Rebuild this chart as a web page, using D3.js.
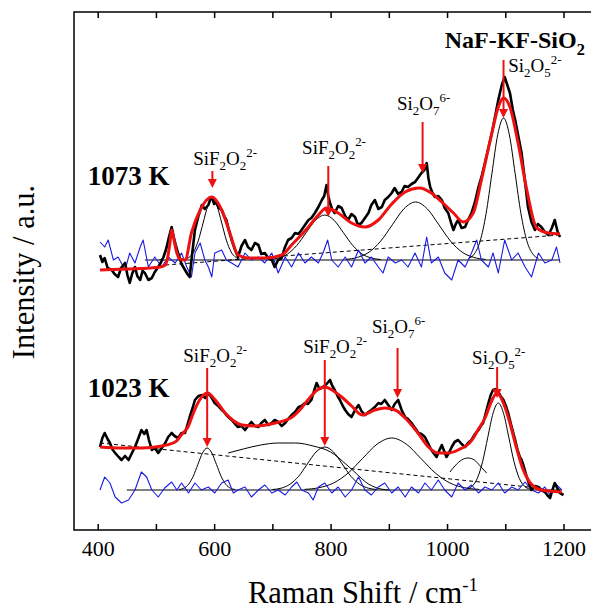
<!DOCTYPE html>
<html><head><meta charset="utf-8">
<script src="https://cdn.jsdelivr.net/npm/d3@7"></script>
<style>body{margin:0;background:#fff}svg{display:block}
svg text, svg tspan{font-family:"Liberation Serif","Times New Roman",serif !important}</style>
</head><body>
<svg id="c" width="591" height="610"></svg>
<script>
// ---------------- DATA ----------------
const xTickValues = [400,500,600,700,800,900,1000,1100,1200];
const xTickLabels = [400,600,800,1000,1200];

// 1073 K  (Raman shift cm-1, intensity a.u.)
const data1073 = [[404,275],[408,268],[412,272],[417,262],[424,260],[429,256],[435,253],[440,262],[447,267],[451,255],[455,247],[459,256],[464,263],[468,254],[473,250],[477,259],[481,257],[487,250],[493,252],[498,258],[504,263],[509,268],[513,273],[518,282],[522,292],[527,303],[531,292],[534,285],[538,277],[544,266],[550,260],[554,256],[558,253],[562,275],[567,300],[573,314],[579,325],[584,321],[590,325],[593,330],[596,333],[600,326],[604,328],[608,322],[613,320],[617,314],[621,310],[626,298],[630,290],[636,280],[641,273],[647,284],[653,290],[658,283],[664,280],[670,287],[676,285],[681,276],[687,277],[693,272],[699,270],[704,263],[710,270],[716,272],[721,282],[727,290],[733,292],[739,297],[745,296],[750,300],[756,305],[762,310],[767,312],[773,317],[779,323],[785,330],[789,334],[793,345],[796,334],[799,327],[803,320],[807,317],[813,324],[819,322],[825,314],[830,310],[836,316],[842,313],[847,305],[853,307],[859,312],[865,317],[870,325],[876,330],[882,321],[888,323],[893,330],[899,333],[905,337],[910,342],[916,336],[922,338],[927,344],[933,343],[939,346],[945,348],[950,352],[956,357],[961,360],[965,367],[968,352],[971,343],[975,337],[979,333],[985,334],[991,330],[996,322],[1002,317],[1007,307],[1011,300],[1015,306],[1019,310],[1025,302],[1031,303],[1036,310],[1042,317],[1048,328],[1054,343],[1060,355],[1065,367],[1071,382],[1077,397],[1083,415],[1088,430],[1094,445],[1099,453],[1104,444],[1108,437],[1113,420],[1117,410],[1123,392],[1128,377],[1134,348],[1139,323],[1145,308],[1151,300],[1156,306],[1162,303],[1168,298],[1174,295],[1180,302],[1185,310],[1190,298],[1194,293]];
const fit1073 = [[404,260],[450,261],[490,262],[507,263],[516,265],[520,272],[524,287],[527,300],[530,293],[535,279],[541,271],[550,270],[561,297],[576,320],[596,333],[613,320],[627,297],[641,275],[659,272],[687,272],[716,275],[733,285],[762,303],[779,315],[793,322],[813,317],[836,307],[859,303],[882,310],[905,326],[928,338],[953,342],[973,337],[991,328],[1011,317],[1028,308],[1045,317],[1059,350],[1077,397],[1088,423],[1097,432],[1108,423],[1122,387],[1137,340],[1154,302],[1174,297],[1194,296]];
const resid1073 = [[404,288],[412,283],[418,290],[427,270],[435,273],[447,260],[455,277],[464,267],[473,283],[478,290],[487,263],[498,273],[510,263],[521,273],[533,267],[544,277],[553,263],[561,253],[567,277],[576,287],[584,270],[590,263],[596,253],[601,277],[613,280],[621,270],[630,267],[641,263],[653,277],[664,270],[676,273],[687,267],[699,277],[710,257],[722,273],[733,263],[745,277],[756,267],[767,273],[779,267],[787,277],[795,290],[802,270],[813,263],[825,273],[836,263],[848,280],[859,267],[870,273],[882,263],[890,257],[899,273],[911,267],[922,270],[933,263],[945,277],[956,263],[965,293],[973,267],[985,273],[996,257],[1008,250],[1019,270],[1031,263],[1042,277],[1051,290],[1059,270],[1071,263],[1079,277],[1088,257],[1099,290],[1111,270],[1122,277],[1134,263],[1145,253],[1157,277],[1168,267],[1180,270],[1188,283],[1194,267]];
const base1073 = [[481,270],[1194,270]];
const bg1073 = [[516,265],[1194,295]];
const peaks1073 = [
  [[506,270.3],[510,271.1],[513,273.4],[517,278.1],[520,285.2],[524,292],[527,295],[531,292],[534,285.2],[538,278.1],[541,273.4],[545,271.1],[548,270.3]],
  [[549,270.7],[557,272.7],[565,278.2],[573,289.8],[581,307],[589,323.8],[597,331],[605,323.8],[613,307],[621,289.8],[629,278.2],[637,272.7],[645,270.7]],
  [[694,270.5],[710,272],[726,276],[742,284.6],[758,297.3],[774,309.7],[790,315],[806,309.7],[822,297.3],[838,284.6],[854,276],[870,272],[886,270.5]],
  [[826,270.6],[846,272.6],[866,277.8],[886,288.9],[906,305.2],[926,321.2],[946,328],[966,321.2],[986,305.2],[1006,288.9],[1026,277.8],[1046,272.6],[1066,270.6]],
  [[1037,271.6],[1047,276.2],[1057,289.2],[1067,316.2],[1077,356.2],[1087,395.2],[1097,412],[1107,395.2],[1117,356.2],[1127,316.2],[1137,289.2],[1147,276.2],[1157,271.6]]
];

// 1023 K
const data1023 = [[404,83],[408,92],[412,97],[417,91],[421,87],[426,80],[430,77],[436,73],[441,70],[447,74],[453,70],[458,76],[464,83],[470,92],[475,100],[480,96],[484,100],[488,90],[493,80],[498,82],[504,77],[510,82],[516,87],[521,93],[527,97],[532,94],[538,92],[544,97],[550,97],[554,105],[558,113],[563,122],[567,130],[573,134],[579,135],[585,132],[590,137],[596,132],[601,127],[607,124],[613,120],[617,118],[621,115],[626,112],[630,110],[636,106],[641,103],[647,104],[653,100],[658,104],[664,108],[670,104],[676,103],[681,107],[687,110],[693,105],[699,107],[704,110],[710,108],[716,104],[722,107],[727,111],[733,115],[739,118],[745,123],[750,124],[756,127],[761,126],[767,130],[771,138],[776,147],[781,141],[787,143],[793,146],[799,150],[803,144],[807,140],[812,134],[816,130],[821,124],[825,120],[830,116],[836,113],[842,120],[848,125],[853,119],[859,115],[865,118],[870,120],[876,123],[882,127],[887,126],[893,130],[899,125],[905,120],[910,126],[916,130],[922,120],[928,113],[933,111],[939,107],[945,102],[951,97],[956,96],[962,93],[968,86],[973,80],[978,76],[982,73],[987,80],[991,85],[995,79],[999,73],[1004,78],[1008,83],[1013,88],[1019,90],[1025,86],[1031,83],[1036,87],[1042,90],[1048,96],[1054,100],[1058,104],[1062,107],[1067,118],[1071,127],[1075,135],[1079,140],[1084,141],[1088,138],[1092,134],[1097,130],[1101,124],[1105,117],[1111,103],[1117,90],[1121,80],[1125,73],[1128,70],[1131,65],[1134,59],[1137,53],[1141,46],[1145,40],[1151,44],[1157,43],[1162,40],[1168,38],[1172,35],[1177,32],[1181,40],[1185,47],[1190,41],[1194,37],[1200,35]];
const fit1023 = [[404,83],[440,82],[476,82],[510,84],[533,88],[545,96],[555,103],[565,118],[575,130],[588,137],[602,130],[619,117],[634,109],[648,105],[670,104],[705,107],[734,113],[750,122],[761,130],[775,139],[790,143],[805,139],[819,133],[836,124],[854,115],[876,120],[893,122],[911,120],[928,112],[950,97],[968,83],[985,77],[1002,77],[1019,80],[1043,90],[1053,100],[1066,113],[1075,127],[1086,137],[1096,128],[1105,113],[1117,87],[1129,63],[1143,47],[1156,41],[1175,39],[1197,38]];
const resid1023 = [[404,40],[412,53],[421,47],[430,33],[441,27],[453,30],[464,40],[475,58],[484,53],[493,40],[504,33],[515,42],[527,48],[536,40],[544,47],[556,37],[567,47],[578,40],[590,43],[601,37],[613,47],[624,50],[633,37],[641,40],[653,43],[664,33],[676,40],[687,45],[699,37],[710,40],[722,35],[733,43],[742,48],[750,40],[762,37],[770,30],[779,43],[790,47],[802,37],[813,43],[825,33],[836,40],[848,53],[859,40],[870,35],[882,43],[893,47],[905,37],[916,43],[928,33],[939,43],[951,37],[962,47],[973,40],[985,50],[996,40],[1008,33],[1019,47],[1031,40],[1042,45],[1054,37],[1065,43],[1077,40],[1088,47],[1099,37],[1111,43],[1122,40],[1134,48],[1145,40],[1157,37],[1168,43],[1177,35],[1185,47],[1197,40]];
const base1023 = [[450,40],[1197,40]];
const bg1023 = [[404,87],[1140,43]];
const peaks1023 = [
  [[540,40.5],[548,41.8],[556,45.7],[564,53.6],[572,65.5],[580,77],[588,82],[596,77],[604,65.5],[612,53.6],[620,45.7],[628,41.8],[636,40.5]],
  [[624,77],[650,81],[680,85],[710,87],[740,87],[770,84],[800,78],[828,65],[845,56],[860,48],[880,42],[900,40]],
  [[700,40.5],[715,41.8],[730,45.7],[745,53.6],[760,66],[775,78],[790,83],[805,78],[820,66],[835,53.6],[850,45.7],[865,41.8],[880,40.5]],
  [[755,40.6],[780,42.3],[805,47],[830,56.9],[855,71.6],[880,85.9],[905,92],[930,85.9],[955,71.6],[980,56.9],[1005,47],[1030,42.3],[1055,40.6]],
  [[1005,58],[1015,65],[1025,70],[1036,72],[1047,70],[1057,64],[1068,57]],
  [[1034,40.9],[1043,43.8],[1052,51.7],[1061,68.3],[1070,92.8],[1079,116.7],[1088,127],[1097,116.7],[1106,92.8],[1115,68.3],[1124,51.7],[1133,43.8],[1142,40.9]]
];

// Ion labels: parts [text, kind]
const ionSiF2O2 = [["SiF","n"],["2","sub"],["O","n"],["2","sub"],["2-","sup"]];
const ionSi2O7 = [["Si","n"],["2","sub"],["O","n"],["7","sub"],["6-","sup"]];
const ionSi2O5 = [["Si","n"],["2","sub"],["O","n"],["5","sub"],["2-","sup"]];
// arrows: [shift, top, bottom], labels: [ion, shift, baseline]
const arrows = [[597,359,342],[796,364,313],[958,408,357],[1097,470,412],
                [588,162,83],[790,170,84],[915,182,132],[1086,163,132]];
const ionLabels = [[ionSiF2O2,564,365],[ionSiF2O2,751,376],[ionSi2O7,914,420],[ionSi2O5,1105,458],
                   [ionSiF2O2,547,168],[ionSiF2O2,753,177],[ionSi2O7,871,197],[ionSi2O5,1043,166]];
const panelLabels = [["1073 K",383,345],["1023 K",383,133]];
const titleParts = [["NaF-KF-SiO","n"],["2","sub"]];
const titlePos = [996,482];

// ---------------- DRAW ----------------
const FONT = "Liberation Serif";
const svg = d3.select("#c");
const x = d3.scaleLinear().domain([400,1200]).range([97.7,563.5]);
const y = d3.scaleLinear().domain([0,518]).range([530,12]);
const L=74, T=12, B=530, R=597;

const line = d3.line().x(d=>x(d[0])).y(d=>y(d[1]));
const smooth = d3.line().curve(d3.curveMonotoneX).x(d=>x(d[0])).y(d=>y(d[1]));

// frame
svg.append("path").attr("d",`M${R},${T}H${L}V${B}H${R}`)
  .attr("fill","none").attr("stroke","#000").attr("stroke-width",1.5);

const gB = svg.append("g").attr("transform",`translate(0,${B})`)
  .call(d3.axisBottom(x).tickValues(xTickValues).tickSizeInner(-6).tickSizeOuter(0).tickPadding(10)
        .tickFormat(d=>xTickLabels.includes(d)?d:""));
gB.attr("font-family",null);
gB.select(".domain").remove();
gB.selectAll("line").attr("stroke-width",1.5);
gB.selectAll("text").style("font-family",FONT).style("font-size","22px").attr("fill","#000");

const gT = svg.append("g").attr("transform",`translate(0,${T})`)
  .call(d3.axisTop(x).tickValues(xTickValues).tickSizeInner(-6).tickSizeOuter(0).tickFormat(""));
gT.select(".domain").remove();
gT.selectAll("line").attr("stroke-width",1.5);

// components
[[peaks1073,base1073],[peaks1023,base1023]].forEach(([pk,bs])=>{
  svg.append("path").attr("d",line(bs)).attr("fill","none").attr("stroke","#000").attr("stroke-width",1);
  pk.forEach(p=>svg.append("path").attr("d",smooth(p)).attr("fill","none").attr("stroke","#000").attr("stroke-width",1));
});
[bg1073,bg1023].forEach(b=>svg.append("path").attr("d",line(b)).attr("fill","none")
  .attr("stroke","#000").attr("stroke-width",1).attr("stroke-dasharray","4,3"));
[resid1073,resid1023].forEach(r=>svg.append("path").attr("d",line(r)).attr("fill","none")
  .attr("stroke","#1a1ae6").attr("stroke-width",1.1).attr("stroke-linejoin","round"));
[data1073,data1023].forEach(r=>svg.append("path").attr("d",line(r)).attr("fill","none")
  .attr("stroke","#000").attr("stroke-width",2.6).attr("stroke-linejoin","round"));
[fit1073,fit1023].forEach(r=>svg.append("path").attr("d",smooth(r)).attr("fill","none")
  .attr("stroke","#ee1111").attr("stroke-width",3).attr("stroke-linejoin","round"));

// arrows
arrows.forEach(([s,t,b])=>{
  const px=x(s), y0=y(t), y1=y(b);
  svg.append("line").attr("x1",px).attr("x2",px).attr("y1",y0).attr("y2",y1-7)
    .attr("stroke","#ee1111").attr("stroke-width",2);
  svg.append("path").attr("d",`M${px-4.5},${y1-9}L${px+4.5},${y1-9}L${px},${y1}Z`).attr("fill","#ee1111");
});

function rich(parts, px, py, size, weight){
  const t = svg.append("text").attr("x",px).attr("y",py).style("font-family",FONT)
    .style("font-size",size+"px").style("font-weight",weight||"normal").attr("fill","#000");
  let cur=0;
  parts.forEach(([s,k])=>{
    const off = k==="sub"? size*0.28 : k==="sup"? -size*0.42 : 0;
    t.append("tspan").attr("dy",off-cur).style("font-size",(k==="n"?size:size*0.68)+"px").text(s);
    cur=off;
  });
  return t;
}
ionLabels.forEach(([parts,s,v])=>rich(parts,x(s),y(v),19));
panelLabels.forEach(([s,px,v])=>svg.append("text").attr("x",x(px)).attr("y",y(v))
  .style("font-family",FONT).style("font-size","27px").style("font-weight","bold").text(s));
rich(titleParts,x(titlePos[0]),y(titlePos[1]),24,"bold");

// axis titles
const xt = svg.append("text").attr("x",363).attr("y",603).attr("text-anchor","middle")
  .style("font-family",FONT).style("font-size","30.5px");
xt.append("tspan").text("Raman Shift / cm");
xt.append("tspan").attr("dy",-12).style("font-size","19px").text("-1");
svg.append("text").attr("transform","translate(34,272) rotate(-90)").attr("text-anchor","middle")
  .style("font-family",FONT).style("font-size","30.5px").text("Intensity / a.u.");
</script>
</body></html>
